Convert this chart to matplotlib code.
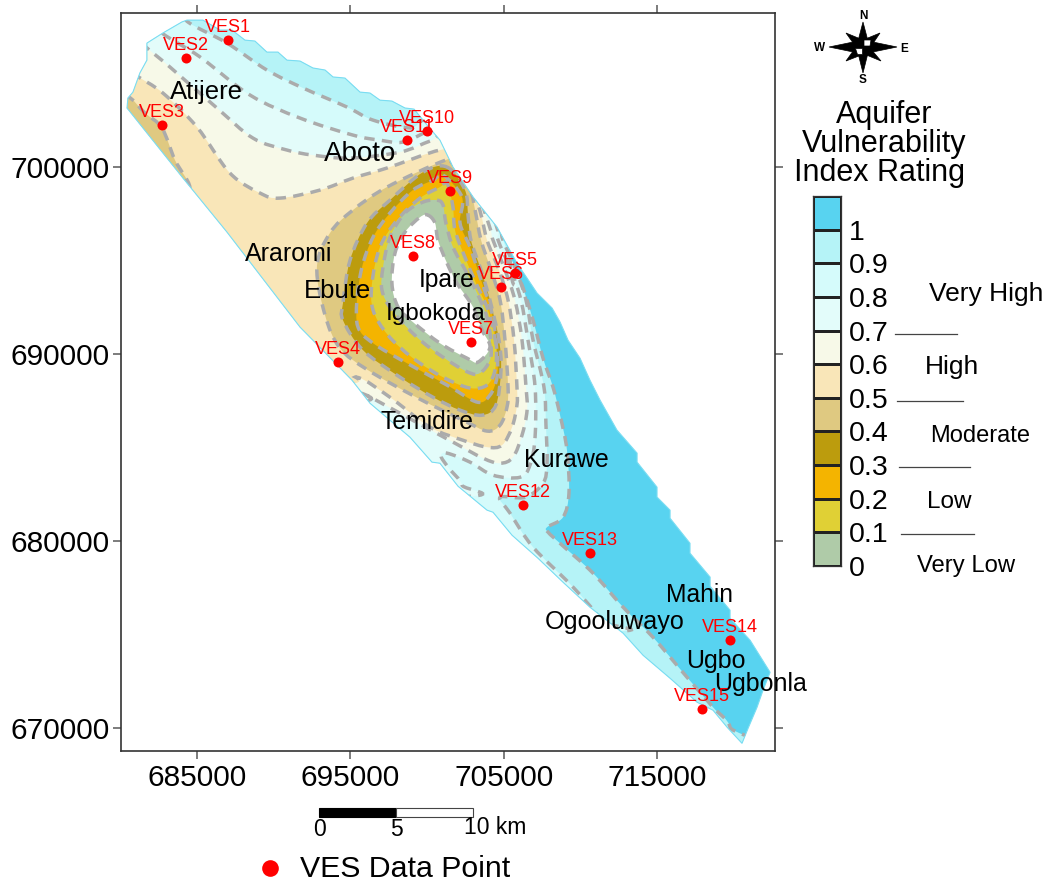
import numpy as np
import matplotlib
matplotlib.use("Agg")
import matplotlib.pyplot as plt
from matplotlib.path import Path
from matplotlib.patches import PathPatch, Polygon, Rectangle
from matplotlib.colors import ListedColormap
from matplotlib.lines import Line2D

plt.rcParams['font.family'] = ['Liberation Sans', 'DejaVu Sans']

ves_names = ['VES1','VES2','VES3','VES4','VES5','VES6','VES7','VES8','VES9','VES10','VES11','VES12','VES13','VES14','VES15']
ves_e = [687.02,684.28,682.72,694.19,705.73,704.82,702.86,699.08,701.49,699.99,698.69,706.25,710.62,719.75,717.92]
ves_n = [706.79,705.83,702.25,689.57,694.33,693.58,690.64,695.24,698.72,701.93,701.44,681.92,679.36,674.70,671.01]

towns = ['Atijere','Aboto','Araromi','Ebute','Ipare','Igbokoda','Temidire','Kurawe','Mahin','Ogooluwayo','Ugbo','Ugbonla']
town_e = [685.65,695.63,691.00,694.19,701.30,700.58,700.00,709.06,717.73,712.25,718.84,721.71]
town_n = [704.17,700.86,695.51,693.53,694.11,692.30,686.52,684.48,677.26,675.82,673.73,672.50]
town_sz = [18.5,20,18,18.5,17.7,17.5,17.8,18,17.7,18.1,18,18]

boundary = [(684.35,707.86),(685.39,707.86),(686.50,707.33),(687.28,707.33),(688.13,706.79),(688.78,706.74),(689.56,706.15),(690.28,706.15),(690.87,705.72),(691.72,705.67),(692.56,705.30),(693.35,705.19),(693.87,704.82),(694.65,704.76),(695.63,704.01),(696.28,703.96),(696.93,703.58),(697.71,703.53),(698.56,703.16),(699.15,703.10),(700.00,702.25),(700.84,701.44),(701.69,700.00),(703.00,698.40),(704.56,696.79),(705.86,694.86),(706.52,694.06),(707.17,693.26),(708.15,692.46),(708.67,691.71),(709.19,690.74),(709.97,689.78),(710.62,688.60),(711.28,687.53),(712.38,685.93),(713.69,684.70),(713.69,684.22),(714.99,682.88),(714.99,682.35),(715.84,681.65),(715.84,681.22),(717.14,679.88),(717.14,679.35),(718.45,678.07),(718.45,677.58),(719.75,676.30),(719.75,675.87),(721.06,674.69),(722.36,672.98),(721.90,672.02),(721.51,671.11),(720.93,669.99),(720.53,669.18),(719.56,670.04),(718.64,670.95),(717.60,671.38),(715.84,672.66),(714.08,673.89),(712.78,675.07),(710.62,676.46),(708.86,677.80),(707.23,679.08),(705.54,680.31),(704.30,681.54),(703.91,681.65),(702.02,682.93),(700.84,684.16),(700.32,684.22),(698.89,685.55),(696.28,687.37),(695.11,688.60),(692.56,690.74),(691.72,691.44),(686.96,696.52),(684.09,699.41),(680.44,703.16),(680.50,703.69),(680.83,704.01),(681.28,705.03),(681.74,705.72),(681.74,706.63),(682.78,707.17),(684.02,707.76)]

iso_00 = [(700.06,697.43),(700.52,697.00),(700.71,696.09),(701.30,694.86),(701.95,693.79),(703.00,692.51),(703.58,691.28),(704.10,690.37),(703.32,689.57),(702.60,689.78),(700.84,690.58),(699.08,691.71),(698.11,692.51),(697.71,693.79),(697.91,695.40),(698.56,696.52),(699.54,697.32)]
iso_01 = [(700.65,698.23),(701.04,697.97),(701.23,697.00),(701.69,695.72),(702.60,694.33),(703.26,693.26),(703.91,691.97),(704.17,690.58),(704.10,689.67),(703.45,688.98),(702.67,689.03),(701.04,689.83),(699.34,690.90),(697.71,692.35),(697.06,693.42),(697.13,694.65),(697.58,696.25),(698.56,697.54),(699.74,698.13)]
iso_02 = [(701.30,699.14),(701.69,697.86),(701.82,696.63),(702.47,695.18),(703.19,693.79),(703.97,692.35),(704.49,690.48),(704.43,689.14),(703.91,688.34),(702.80,688.18),(701.04,688.76),(699.08,689.78),(697.45,691.01),(696.48,692.35),(696.41,693.79),(696.93,695.72),(698.04,697.16),(699.54,698.34),(700.84,698.93)]
iso_03 = [(701.04,699.57),(702.28,698.39),(702.15,697.00),(702.80,695.72),(703.52,693.95),(704.23,692.19),(704.56,690.05),(704.56,688.76),(704.10,687.80),(703.26,687.43),(701.30,688.34),(698.69,689.51),(696.48,690.58),(695.50,691.44),(695.43,692.88),(695.76,694.65),(696.48,696.25),(697.58,697.54),(699.08,698.77),(700.39,699.30)]
iso_04 = [(701.30,700.00),(702.47,698.77),(702.67,697.43),(702.86,696.09),(703.52,694.49),(704.10,692.88),(704.69,690.74),(704.82,689.14),(704.49,687.27),(703.58,686.73),(702.15,687.00),(700.39,687.69),(698.24,688.76),(695.82,690.21),(694.52,691.81),(694.52,692.72),(694.98,695.02),(696.08,697.00),(697.58,698.23),(699.74,699.73)]
iso_05 = [(701.63,700.21),(702.80,698.77),(703.13,697.70),(703.52,696.09),(704.17,694.49),(704.76,692.88),(705.08,690.74),(705.28,688.23),(705.21,687.16),(704.76,686.20),(703.91,685.88),(702.34,686.46),(699.41,687.64),(696.15,689.14),(694.32,690.32),(693.35,692.08),(692.82,694.65),(693.67,696.47),(695.17,697.70),(697.39,698.93),(701.04,700.32)]
iso_05_nw = [(680.31,703.85),(681.61,702.89),(682.72,702.09),(683.57,700.37),(684.54,698.93),(684.00,698.00),(678.00,698.00),(678.00,704.00)]
iso_06 = [(679.98,705.72),(681.02,704.92),(682.78,703.96),(685.00,702.14),(687.15,699.68),(689.11,698.61),(690.41,698.34),(693.02,698.77),(695.17,699.41),(697.39,699.95),(700.84,700.91),(701.82,700.64),(703.32,697.97),(703.91,696.09),(704.69,694.49),(705.28,692.88),(705.67,690.74),(705.86,688.23),(705.86,687.27),(705.54,686.09),(704.89,685.13),(703.91,685.02),(702.34,685.39),(700.19,686.09),(697.58,687.69),(695.43,688.76),(694.00,688.34),(678.00,688.34),(678.00,705.72)]
iso_07 = [(680.63,707.33),(681.61,706.47),(683.24,705.35),(686.30,703.16),(688.65,701.55),(690.87,700.91),(692.56,700.64),(694.98,700.48),(698.24,700.80),(700.19,701.39),(701.30,701.61),(703.13,698.93),(704.10,696.74),(704.30,696.09),(705.08,694.49),(705.73,692.88),(706.19,690.74),(706.45,688.23),(706.52,687.00),(706.19,685.66),(705.60,684.48),(704.76,684.16),(703.65,684.43),(701.69,685.29),(699.41,686.30),(697.26,687.27),(695.63,687.91),(694.98,687.43),(678.00,687.43),(678.00,707.33)]
iso_08 = [(682.26,707.86),(682.72,707.17),(685.20,705.89),(688.46,703.85),(691.72,702.62),(695.17,701.71),(696.93,701.44),(698.43,701.34),(700.19,701.98),(700.84,702.19),(703.32,699.30),(704.56,696.74),(704.63,696.09),(705.47,694.49),(706.12,692.88),(706.58,690.74),(707.04,688.23),(707.04,685.55),(706.71,684.06),(706.06,683.41),(704.30,683.52),(702.80,684.22),(701.30,684.70),(700.91,684.54),(701.37,683.95),(702.28,682.99),(701.63,682.34),(678.00,682.34),(678.00,707.86)]
iso_09 = [(683.57,708.67),(684.41,707.76),(686.96,706.63),(689.56,705.19),(691.91,704.23),(694.78,703.21),(696.48,702.51),(698.89,702.09),(700.06,702.41),(702.47,700.11),(704.56,697.27),(704.95,696.09),(705.80,694.49),(706.45,692.88),(706.91,690.74),(707.62,688.23),(707.75,686.20),(707.82,684.16),(707.56,683.09),(706.39,682.34),(704.76,682.34),(705.41,681.49),(706.91,679.67),(709.52,677.53),(711.28,675.76),(710.62,675.12),(678.00,675.12),(678.00,708.67)]
iso_10 = [(705.41,708.67),(705.41,695.13),(706.19,693.69),(706.91,691.81),(707.56,689.78),(708.21,688.23),(708.67,686.73),(709.12,684.86),(709.25,682.56),(708.86,681.27),(707.82,680.74),(707.89,680.47),(708.80,679.78),(710.82,678.28),(712.78,676.46),(714.73,674.85),(716.95,672.71),(718.64,671.11),(719.75,670.04),(719.43,668.27),(678.00,668.27),(678.00,708.67)]

level_edges = [0,0.1,0.2,0.3,0.4,0.5,0.6,0.7,0.8,0.9,1.0,1.1]
band_colors = ['#AFCBA8','#E0D035','#F4B400','#BC9C0D','#DFC981','#F9E6B8','#F7F9E8','#E3FCFA','#D5FBFB','#B5F3F7','#58D3F0']
rating_ticks = [0,0.1,0.2,0.3,0.4,0.5,0.6,0.7,0.8,0.9,1]
rating_labels = ['0','0.1','0.2','0.3','0.4','0.5','0.6','0.7','0.8','0.9','1']
x_ticks = [685000,695000,705000,715000]
y_ticks = [670000,680000,690000,700000]

W, H = 1052, 881
def fx(p): return p / W
def fy(p): return 1 - p / H

fig = plt.figure(figsize=(W/100, H/100), dpi=100, facecolor='white')
ax = fig.add_axes([fx(121), fy(751), (775-121)/W, (751-13)/H])
ax.set_xlim(680050, 722680)
ax.set_ylim(668770, 708240)

def to_m(pts):
    return np.asarray(pts) * 1000.0

def smooth(pts):
    """Closed path through the digitised vertices, rendered as Bezier curves."""
    p = to_m(pts)
    n = len(p)
    verts = [p[0]]
    codes = [Path.MOVETO]
    for i in range(n):
        p0, p1, p2, p3 = p[i-1], p[i], p[(i+1) % n], p[(i+2) % n]
        verts += [p1 + (p2 - p0) / 6, p2 - (p3 - p1) / 6, p2]
        codes += [Path.CURVE4, Path.CURVE4, Path.CURVE4]
    return Path(np.array(verts), codes)

bnd_path = Path(np.vstack([to_m(boundary), to_m(boundary)[:1]]), closed=True)
base = PathPatch(bnd_path, facecolor=band_colors[10], edgecolor='none', zorder=1)
ax.add_patch(base)

layers = [(iso_10, 9), (iso_09, 8), (iso_08, 7), (iso_07, 6), (iso_06, 5), (iso_05_nw, 4),
          (iso_05, 4), (iso_04, 3), (iso_03, 2), (iso_02, 1), (iso_01, 0)]
for pts, ci in layers:
    patch = PathPatch(smooth(pts), facecolor=band_colors[ci], edgecolor='none', zorder=2)
    ax.add_patch(patch)
    patch.set_clip_path(base)
hole = PathPatch(smooth(iso_00), facecolor='white', edgecolor='none', zorder=2)
ax.add_patch(hole)

for pts in [iso_10, iso_09, iso_08, iso_07, iso_06, iso_05_nw, iso_05, iso_04, iso_03, iso_02, iso_01, iso_00]:
    line = PathPatch(smooth(pts), facecolor='none', edgecolor='#ABABAB', lw=2.5,
                     linestyle=(0, (3.0, 2.1)), zorder=3)
    ax.add_patch(line)
    line.set_clip_path(base)

ax.add_patch(PathPatch(bnd_path, facecolor='none', edgecolor='#7ADDF2', lw=0.8, zorder=4))

ax.scatter(np.array(ves_e)*1000, np.array(ves_n)*1000, s=52, color='#FF0000', linewidths=0, zorder=6)
for name, e, n in zip(ves_names, ves_e, ves_n):
    ax.annotate(name, (e*1000, n*1000), xytext=(0, 9.2), textcoords='offset points', ha='center',
                va='center', color='#FF0000', fontsize=13, zorder=7)
for name, e, n, s in zip(towns, town_e, town_n, town_sz):
    ax.text(e*1000, n*1000, name, ha='center', va='center_baseline', fontsize=s, color='black',
            zorder=5, clip_on=False)

ax.set_xticks(x_ticks)
ax.set_yticks(y_ticks)
ax.set_xticklabels([str(v) for v in x_ticks])
ax.set_yticklabels([str(v) for v in y_ticks])
ax.tick_params(axis='both', which='major', direction='out', length=5.6, width=1.2, color='#666666',
               labelsize=21.5, top=True, right=True, pad=2.5, labelcolor='black')
ax.tick_params(axis='x', pad=4)
for s in ax.spines.values():
    s.set_linewidth(1.2)
    s.set_color('#333333')

# ---------- rating key ----------
cax = fig.add_axes([fx(813), fy(566), (841-813)/W, (566-196)/H])
cax.pcolormesh([0, 1], level_edges, np.arange(11).reshape(-1, 1),
               cmap=ListedColormap(band_colors), vmin=-0.5, vmax=10.5,
               edgecolors='#222222', linewidth=0.8)
cax.set_xticks([])
cax.set_yticks(rating_ticks)
cax.set_yticklabels(rating_labels, ha='left')
cax.yaxis.tick_right()
cax.tick_params(axis='y', length=0, labelsize=20.5, pad=6)
cax.set_ylim(0, 1.1)
for s in cax.spines.values():
    s.set_linewidth(0.9)
    s.set_color('#333333')

def ftext(px, py, s, size, **kw):
    kw.setdefault('ha', 'center')
    kw.setdefault('va', 'center')
    fig.text(fx(px), fy(py), s, fontsize=size, color='black', **kw)

ftext(884, 115, 'Aquifer', 22)
ftext(884, 144, 'Vulnerability', 22)
ftext(879, 173, 'Index Rating', 22)

ftext(986, 294, 'Very High', 19)
ftext(952, 367, 'High', 19)
ftext(980, 436, 'Moderate', 17)
ftext(949, 502, 'Low', 17.5)
ftext(966, 566, 'Very Low', 17.2)

for x0, x1, y in [(895, 957, 334), (897, 963, 401), (899, 970, 467), (901, 974, 534)]:
    fig.add_artist(Line2D([fx(x0), fx(x1)], [fy(y), fy(y)], color='#444444', lw=0.9))

# ---------- scale bar ----------
fig.add_artist(Rectangle((fx(319), fy(817)), (396-319)/W, 9/H, facecolor='black', edgecolor='black', lw=0.8))
fig.add_artist(Rectangle((fx(396), fy(817)), (473-396)/W, 9/H, facecolor='white', edgecolor='#444444', lw=0.8))
ftext(319, 829, '0', 16.5)
ftext(396, 829, '5', 16.5)
ftext(495, 828, '10 km', 16.5)

# ---------- point legend ----------
fig.add_artist(Line2D([fx(270)], [fy(868)], marker='o', ms=12, color='#FF0000', mew=0, ls='none'))
ftext(300, 869, 'VES Data Point', 21.8, ha='left')

# ---------- north arrow ----------
cx, cy = 863, 47

def add_poly(pts, color):
    fig.add_artist(Polygon([(fx(a), fy(b)) for a, b in pts], closed=True, facecolor=color,
                           edgecolor='black', lw=0.5, transform=fig.transFigure))

add_poly([(cx, cy-25), (cx+5, cy-6), (cx+34, cy), (cx+5, cy+6), (cx, cy+26), (cx-5, cy+6), (cx-34, cy), (cx-5, cy-6)], 'black')
add_poly([(cx+17, cy-14), (cx+7, cy+1), (cx+18, cy+14), (cx+1, cy+7), (cx-17, cy+14), (cx-7, cy), (cx-17, cy-14), (cx, cy-7)], 'black')
add_poly([(cx+1, cy-7), (cx+8, cy-7), (cx+7, cy-1), (cx+1, cy-1)], 'white')
add_poly([(cx-8, cy+1), (cx-1, cy+1), (cx-1, cy+7), (cx-6, cy+7)], 'white')
ftext(863, 16, 'N', 8.5, fontweight='bold')
ftext(863, 80, 'S', 8.5, fontweight='bold')
ftext(820, 48, 'W', 8.5, fontweight='bold')
ftext(904, 49, 'E', 8.5, fontweight='bold')

fig.savefig('out.png', dpi=100, facecolor='white')
